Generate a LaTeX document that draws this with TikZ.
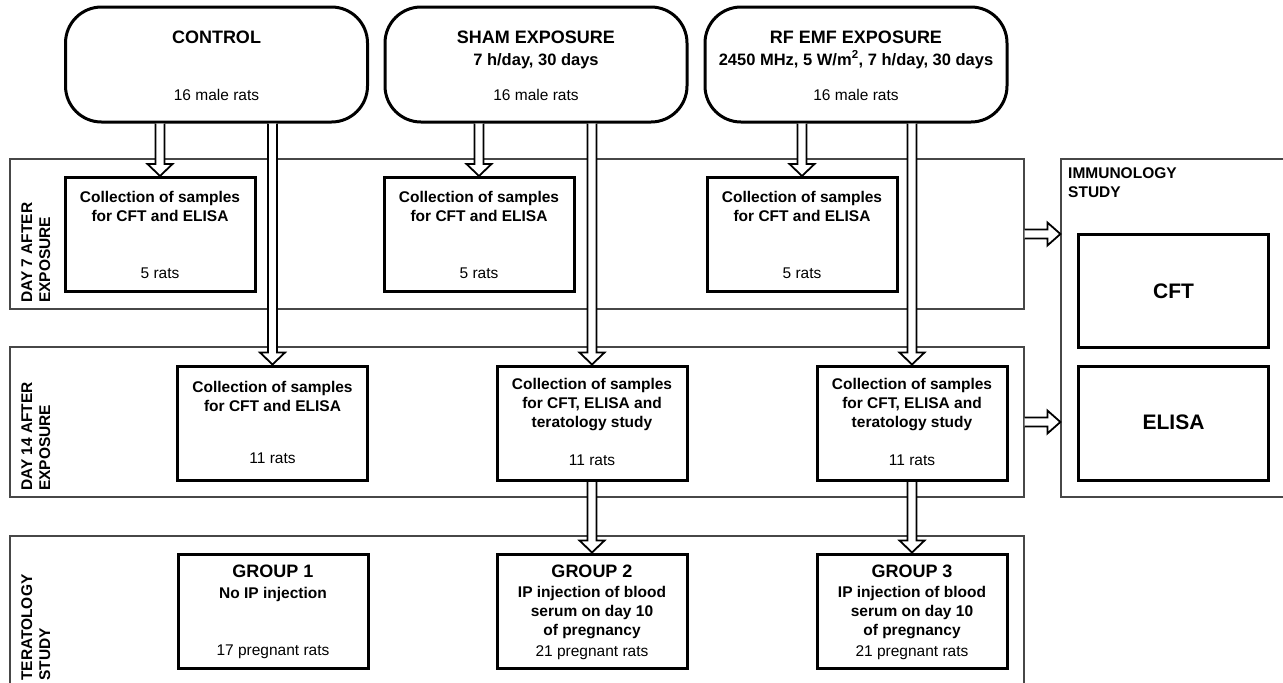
\documentclass[tikz,border=0pt]{standalone}
\usepackage{fontspec}
\setmainfont{Liberation Sans}
\usetikzlibrary{calc}
\newcommand\darrow[2]{%
  \filldraw[harrow] ($(#1)+(-4.5,0)$) -- ($(#2)+(-4.5,-12)$) -- ($(#2)+(-12.5,-12)$) -- (#2) -- ($(#2)+(12.5,-12)$) -- ($(#2)+(4.5,-12)$) -- ($(#1)+(4.5,0)$);}
\newcommand\rarrow[2]{%
  \filldraw[harrow] ($(#1)+(0,-4.5)$) -- ($(#2)+(-13,-4.5)$) -- ($(#2)+(-13,-11.5)$) -- (#2) -- ($(#2)+(-13,11.5)$) -- ($(#2)+(-13,4.5)$) -- ($(#1)+(0,4.5)$);}
\begin{document}
\begin{tikzpicture}[x=1pt,y=-1pt,
 band/.style={draw=black!72, line width=1.2pt, inner sep=0pt},
 box/.style={draw, line width=3pt, fill=white, minimum width=190pt, minimum height=114pt, inner sep=0pt},
 topbox/.style={draw, line width=3pt, rounded corners=36pt, fill=white, minimum width=302pt, minimum height=115pt, inner sep=0pt},
 harrow/.style={draw, fill=white, line width=1.8pt, line join=miter},
 bt/.style={font=\fontsize{15.5}{18}\selectfont\bfseries, anchor=base, inner sep=0pt},
 rt/.style={font=\fontsize{15.5}{18}\selectfont, anchor=base, inner sep=0pt},
 tt/.style={font=\fontsize{18}{21}\selectfont\bfseries, anchor=base, inner sep=0pt},
 st/.style={font=\fontsize{16.5}{19}\selectfont\bfseries, anchor=base, inner sep=0pt},
 big/.style={font=\fontsize{21}{24}\selectfont\bfseries, anchor=base, inner sep=0pt},
 side/.style={font=\fontsize{15.5}{18}\selectfont\bfseries, rotate=90, anchor=base west, inner sep=0pt},
]
\useasboundingbox (0,0) rectangle (1283,683);
\clip (0,0) rectangle (1283,683);
% bands
\node[band, minimum width=1014pt, minimum height=150pt] (band1) at (517,234) {};
\node[band, minimum width=1014pt, minimum height=150pt] (band2) at (517,422) {};
\node[band, minimum width=1014pt, minimum height=164pt] (band3) at (517,618) {};
\node[band, minimum width=239pt, minimum height=338pt] (imm) at (1180.5,328) {};
% top boxes
\node[topbox] (ctrl) at (216.5,64.5) {};
\node[topbox] (sham) at (536,64.5) {};
\node[topbox] (rf) at (856,64.5) {};
% day 7 boxes
\node[box] (d7c) at (160,234.5) {};
\node[box] (d7s) at (479,234.5) {};
\node[box] (d7r) at (802,234.5) {};
% day 14 boxes
\node[box] (d14c) at (272.5,423) {};
\node[box] (d14s) at (592,423) {};
\node[box] (d14r) at (912,423) {};
% groups
\node[box] (g1) at (273,611) {};
\node[box] (g2) at (592,611) {};
\node[box] (g3) at (912,611) {};
% immunology boxes
\node[box, minimum height=113pt] (cft) at (1173.5,290.5) {};
\node[box] (eli) at (1173.5,423) {};
% arrows
\coordinate (a1) at (d7c.north |- ctrl.south);
\coordinate (a2) at (d14c.north |- ctrl.south);
\coordinate (a3) at (d7s.north |- sham.south);
\coordinate (a4) at (d14s.north |- sham.south);
\coordinate (a5) at (d7r.north |- rf.south);
\coordinate (a6) at (d14r.north |- rf.south);
\coordinate (r1) at (band1.east -| imm.west);
\coordinate (r2) at (band2.east -| imm.west);
\darrow{a1}{d7c.north}
\darrow{a2}{d14c.north}
\darrow{a3}{d7s.north}
\darrow{a4}{d14s.north}
\darrow{a5}{d7r.north}
\darrow{a6}{d14r.north}
\darrow{d14s.south}{g2.north}
\darrow{d14r.south}{g3.north}
\rarrow{band1.east}{r1}
\rarrow{band2.east}{r2}
% redraw boxes crossed by arrows' white fill
\node[box] at (d7c) {};
\node[box] at (d7s) {};
\node[box] at (d7r) {};
\node[box] at (d14c) {};
\node[box] at (d14s) {};
\node[box] at (d14r) {};
\node[box] at (g2) {};
\node[box] at (g3) {};
% top texts
\node[tt] (t1) at (216.5,43) {CONTROL};
\node[rt] (t2) at (216.5,100) {16 male rats};
\node[tt] (t3) at (536,43) {SHAM EXPOSURE};
\node[st] (t4) at (536,65) {7 h/day, 30 days};
\node[rt] (t5) at (536,100) {16 male rats};
\node[tt] (t6) at (856,43) {RF EMF EXPOSURE};
\node[st] (t7) at (856,65) {2450 MHz, 5 W/m\textsuperscript{2}, 7 h/day, 30 days};
\node[rt] (t8) at (856,100) {16 male rats};
% day 7 texts
\node[bt] (u1) at (160,202) {Collection of samples};
\node[bt] (u2) at (160,221) {for CFT and ELISA};
\node[rt] (u3) at (160,278) {5 rats};
\node[bt] (u4) at (479,202) {Collection of samples};
\node[bt] (u5) at (479,221) {for CFT and ELISA};
\node[rt] (u6) at (479,278) {5 rats};
\node[bt] (u7) at (802,202) {Collection of samples};
\node[bt] (u8) at (802,221) {for CFT and ELISA};
\node[rt] (u9) at (802,278) {5 rats};
% day 14 texts
\node[bt] (v1) at (272.5,392) {Collection of samples};
\node[bt] (v2) at (272.5,411) {for CFT and ELISA};
\node[rt] (v3) at (272.5,463) {11 rats};
\node[bt] (v4) at (592,389) {Collection of samples};
\node[bt] (v5) at (592,408) {for CFT, ELISA and};
\node[bt] (v6) at (592,427) {teratology study};
\node[rt] (v7) at (592,465) {11 rats};
\node[bt] (v8) at (912,389) {Collection of samples};
\node[bt] (v9) at (912,408) {for CFT, ELISA and};
\node[bt] (v10) at (912,427) {teratology study};
\node[rt] (v11) at (912,465) {11 rats};
% group texts
\node[tt] (w1) at (273,577) {GROUP 1};
\node[bt] (w2) at (273,598) {No IP injection};
\node[rt] (w3) at (273,655) {17 pregnant rats};
\node[tt] (w4) at (592,577) {GROUP 2};
\node[bt] (w5) at (592,597) {IP injection of blood};
\node[bt] (w6) at (592,616) {serum on day 10};
\node[bt] (w7) at (592,635) {of pregnancy};
\node[rt] (w8) at (592,656) {21 pregnant rats};
\node[tt] (w9) at (912,577) {GROUP 3};
\node[bt] (w10) at (912,597) {IP injection of blood};
\node[bt] (w11) at (912,616) {serum on day 10};
\node[bt] (w12) at (912,635) {of pregnancy};
\node[rt] (w13) at (912,656) {21 pregnant rats};
% immunology texts
\node[bt, anchor=base west] (i1) at (1068,178) {IMMUNOLOGY};
\node[bt, anchor=base west] (i2) at (1068,197) {STUDY};
\node[big] (i3) at (1173.5,298) {CFT};
\node[big] (i4) at (1173.5,429) {ELISA};
% side labels
\node[side] (s1) at (32,303) {DAY 7 AFTER};
\node[side] (s2) at (50,303) {EXPOSURE};
\node[side] (s3) at (32,491) {DAY 14 AFTER};
\node[side] (s4) at (50,491) {EXPOSURE};
\node[side] (s5) at (32,681) {TERATOLOGY};
\node[side] (s6) at (50,681) {STUDY};
\end{tikzpicture}
\end{document}
